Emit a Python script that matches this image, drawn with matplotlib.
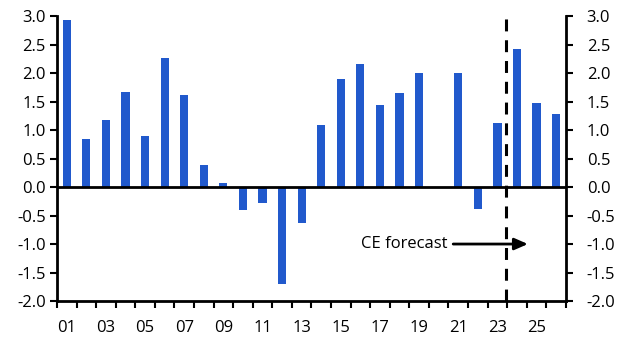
import numpy as np
import matplotlib
matplotlib.use("Agg")
import matplotlib.pyplot as plt

plt.rcParams["font.family"] = ["Open Sans", "DejaVu Sans"]
plt.rcParams["axes.unicode_minus"] = False

# data: annual values, 2001-2026 (2020 not shown)
years = [f"{y:02d}" for y in range(1, 27)]
values = [2.93, 0.84, 1.18, 1.67, 0.89, 2.26, 1.61, 0.39, 0.07, -0.40,
          -0.28, -1.71, -0.63, 1.09, 1.89, 2.16, 1.44, 1.65, 2.00, np.nan,
          2.00, -0.38, 1.12, 2.42, 1.47, 1.28]
forecast_start = "24"
y_ticks = [-2.0, -1.5, -1.0, -0.5, 0.0, 0.5, 1.0, 1.5, 2.0, 2.5, 3.0]

bar_color = "#2159CC"
fs = 12

fig = plt.figure(figsize=(6.26, 3.56), dpi=100)
ax = fig.add_axes([0.091, 0.1545, 0.813, 0.80])

x = np.arange(len(years))
ax.bar(x, values, width=0.42, color=bar_color, zorder=2)
ax.axhline(0, color="black", lw=2, zorder=3)

ax.set_xlim(-0.5, len(years) - 0.5)
ax.set_ylim(-2.0, 3.0)
ax.set_yticks(y_ticks)
ax.set_yticklabels([f"{v:.1f}" for v in y_ticks])

# tick marks at category boundaries, labels on odd years at centres
ax.set_xticks(np.arange(len(years) + 1) - 0.5)
ax.set_xticklabels([])
ax.set_xticks(x[::2], minor=True)
ax.set_xticklabels(years[::2], minor=True)
ax.tick_params(axis="x", which="major", length=5, width=1.5, direction="out")
ax.tick_params(axis="x", which="minor", length=0, pad=14, labelsize=fs, colors="black")
ax.tick_params(axis="y", length=5, width=1.5, direction="out", labelsize=fs, pad=3)

for side in ["top", "right"]:
    ax.spines[side].set_visible(False)
for side in ["left", "bottom"]:
    ax.spines[side].set_linewidth(2)

ax2 = ax.twinx()
ax2.set_ylim(ax.get_ylim())
ax2.set_yticks(y_ticks)
ax2.set_yticklabels([f"{v:.1f}" for v in y_ticks])
ax2.tick_params(axis="y", length=5, width=1.5, direction="out", labelsize=fs, pad=10)
for side in ["top", "left", "bottom"]:
    ax2.spines[side].set_visible(False)
ax2.spines["right"].set_linewidth(2)

# forecast divider and annotation
fx = years.index(forecast_start) - 0.56
ax.plot([fx, fx], [-2.0, 3.06], color="black", lw=2.2, dashes=(3.9, 2.9),
        clip_on=False, zorder=4)
ax.annotate("", xy=(23.7, -1.0), xytext=(19.6, -1.0),
            arrowprops=dict(arrowstyle="-|>,head_length=0.8,head_width=0.35",
                            color="black", lw=2), zorder=5)
ax.text(19.45, -1.0, "CE forecast", ha="right", va="center", fontsize=fs)

fig.savefig("out.png", dpi=100)
